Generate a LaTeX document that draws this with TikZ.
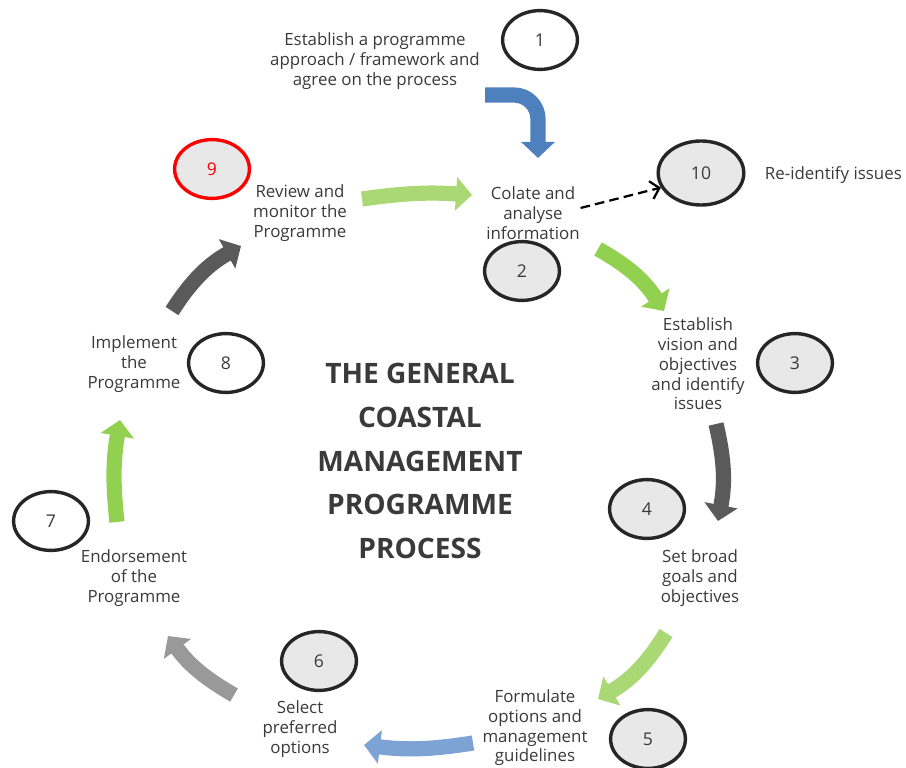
\documentclass[tikz,border=0pt]{standalone}
\usepackage{fontspec}
\setmainfont{Open Sans}
\usetikzlibrary{arrows.meta,shapes.geometric}
\definecolor{stagefill}{RGB}{232,232,232}
\definecolor{inkgray}{RGB}{58,58,58}
\definecolor{flowblue}{RGB}{79,128,190}
\definecolor{flowpaleblue}{RGB}{125,163,213}
\definecolor{flowgreen}{RGB}{146,208,80}
\definecolor{flowlightgreen}{RGB}{169,216,116}
\definecolor{flowdark}{RGB}{90,90,90}
\definecolor{flowgray}{RGB}{153,153,153}
\tikzset{
  stagecircle/.style={ellipse, draw=black!85, line width=0.085cm, fill=stagefill,
    minimum width=1.87cm, minimum height=1.47cm, inner sep=0pt,
    text=inkgray, font=\fontsize{12.5}{14}\selectfont},
  tasktext/.style={align=center, text=inkgray, font=\fontsize{12}{14}\selectfont},
  headtext/.style={align=center, text=inkgray, font=\bfseries\fontsize{20}{31}\selectfont},
  flow/.style={line width=0.38cm, -{Triangle[width=0.82cm,length=0.4cm]}}
}
\begin{document}
\begin{tikzpicture}[x=0.025cm,y=-0.025cm]
\useasboundingbox (0,0) rectangle (906,768);

% numbered stages
\foreach \n/\x/\y in {2/522/271,3/795/363,4/647/509,5/648/739,6/319/661} {
  \node[stagecircle] (c\n) at (\x,\y) {\n};
}
\foreach \n/\x/\y in {1/540/40,7/51/521,8/226/363} {
  \node[stagecircle, fill=white] (c\n) at (\x,\y) {\n};
}
\node[stagecircle, draw=red, text=red] (c9) at (212,169) {9};
\node[stagecircle, minimum width=2.14cm, minimum height=1.6cm] (c10) at (701,173) {10};

% stage texts
\node[tasktext] (t1) at (375,61) {Establish a programme\\approach / framework and\\agree on the process};
\node[tasktext] (t2) at (533,213) {Colate and\\analyse\\information};
\node[tasktext] (t3) at (698,364) {Establish\\vision and\\objectives\\and identify\\issues};
\node[tasktext] (t4) at (700,578) {Set broad\\goals and\\objectives};
\node[tasktext] (t5) at (535,728) {Formulate\\options and\\management\\guidelines};
\node[tasktext] (t6) at (300,729) {Select\\preferred\\options};
\node[tasktext] (t7) at (134,578) {Endorsement\\of the\\Programme};
\node[tasktext] (t8) at (134,364) {Implement\\the\\Programme};
\node[tasktext] (t9) at (300,213) {Review and\\monitor the\\Programme};
\node[tasktext, anchor=west] (t10) at (760,175) {Re-identify issues};
\node[headtext] (head) at (420,461) {THE GENERAL\\COASTAL\\MANAGEMENT\\PROGRAMME\\PROCESS};

% arrow ends
\coordinate (f1a) at (485,95);  \coordinate (f1b) at (538,158);
\coordinate (f2a) at (362,199); \coordinate (f2b) at (472,195);
\coordinate (f3a) at (598,249); \coordinate (f3b) at (664,311);
\coordinate (f4a) at (716,424); \coordinate (f4b) at (718,521);
\coordinate (f5a) at (666,633); \coordinate (f5b) at (598,699);
\coordinate (f6a) at (473,743); \coordinate (f6b) at (364,745);
\coordinate (f7a) at (234,695); \coordinate (f7b) at (168,636);
\coordinate (f8a) at (117,522); \coordinate (f8b) at (120,420);
\coordinate (f9a) at (172,311); \coordinate (f9b) at (241,246);

\draw[flow, draw=flowblue, rounded corners=0.6cm] (f1a) -| (f1b);
\foreach \i/\c/\b in {2/flowlightgreen/6, 3/flowgreen/14, 4/flowdark/12,
                      5/flowlightgreen/14, 6/flowpaleblue/8, 7/flowgray/12,
                      8/flowgreen/8, 9/flowdark/14} {
  \draw[flow, draw=\c] (f\i a) to[bend left=\b] (f\i b);
}

\draw[dashed, dash pattern=on 2.4mm off 1.3mm, line width=1.6pt,
  -{Straight Barb[length=6pt,width=13pt]}] ([shift={(-4,-5)}]t2.east) -- (c10.200);
\end{tikzpicture}
\end{document}
